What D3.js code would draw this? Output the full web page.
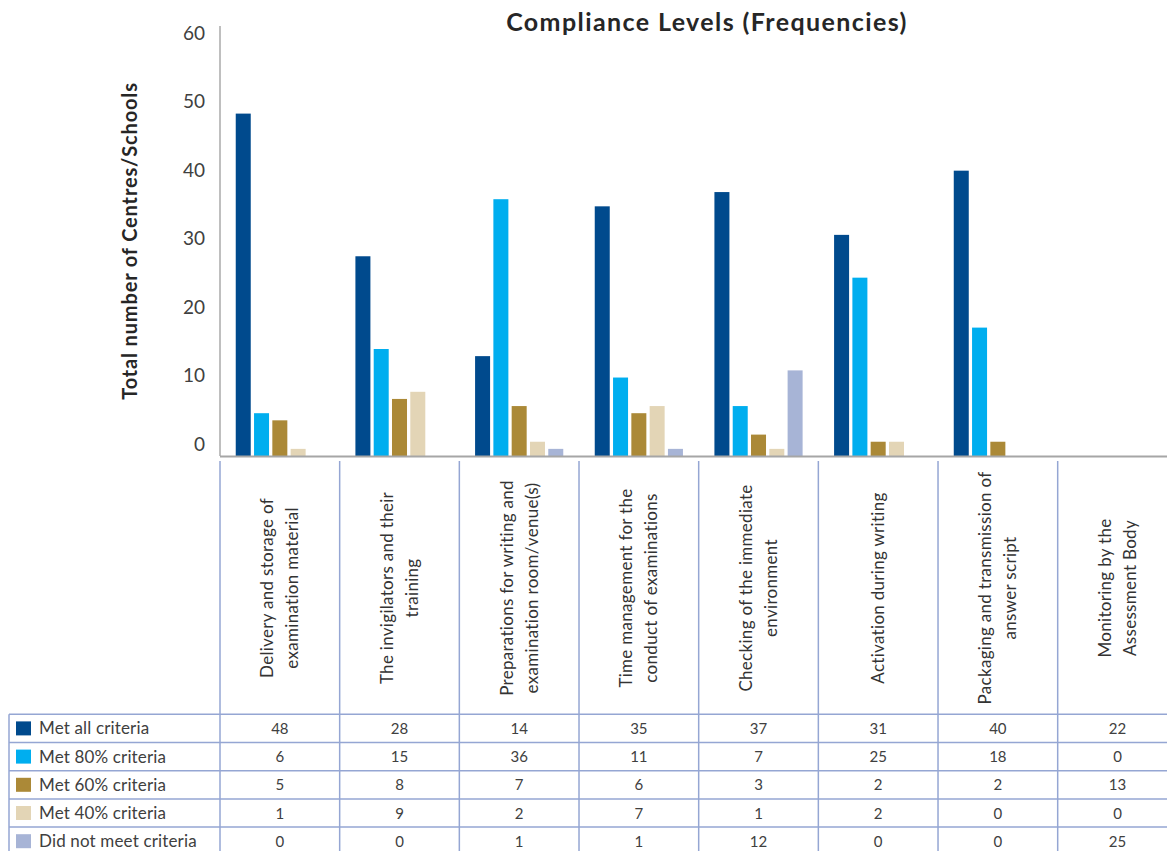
<!DOCTYPE html>
<html>
<head>
<meta charset="utf-8">
<script src="https://cdn.jsdelivr.net/npm/d3@7"></script>
<style>
  html, body { margin: 0; padding: 0; background: #fff; }
  svg { display: block; font-family: Lato, "Open Sans", sans-serif; }
</style>
</head>
<body>
<svg id="chart" width="1167" height="851"></svg>
<script>
// ---------- data ----------
const categories = [
  "Delivery and storage of examination material",
  "The invigilators and their training",
  "Preparations for writing and examination room/venue(s)",
  "Time management for the conduct of examinations",
  "Checking of the immediate environment",
  "Activation during writing",
  "Packaging and transmission of answer script",
  "Monitoring by the Assessment Body"
];
const categoryLines = [
  ["Delivery and storage of", "examination material"],
  ["The invigilators and their", "training"],
  ["Preparations for writing and", "examination room/venue(s)"],
  ["Time management for the", "conduct of examinations"],
  ["Checking of the immediate", "environment"],
  ["Activation during writing"],
  ["Packaging and transmission of", "answer script"],
  ["Monitoring by the", "Assessment Body"]
];
const seriesNames = ["Met all criteria", "Met 80% criteria", "Met 60% criteria", "Met 40% criteria", "Did not meet criteria"];
const metAll   = [48, 28, 14, 35, 37, 31, 40, 22];
const met80    = [6, 15, 36, 11, 7, 25, 18, 0];
const met60    = [5, 8, 7, 6, 3, 2, 2, 13];
const met40    = [1, 9, 2, 7, 1, 2, 0, 0];
const didNot   = [0, 0, 1, 1, 12, 0, 0, 25];
const seriesColors = ["#004A8D", "#00AEEF", "#AB8937", "#E3D5B6", "#A7B4D6"];
const yTicks = [0, 10, 20, 30, 40, 50, 60];
// In the reference, the last category appears only in the table (no bars drawn)
const barCategoryCount = 7;

const seriesValues = [metAll, met80, met60, met40, didNot];

// ---------- layout ----------
const svg = d3.select("#chart");
const colW = 119.67;
const plotLeft = 220;
const baseY = 456;
const topY = 28;
const labelTop = 461;
const tableTop = 714.3;
const rowH = 28.2;
const tableLeft = 9;
const W = 1167;

const x = d3.scaleBand().domain(categories).range([plotLeft, plotLeft + colW * categories.length]);
const xs = d3.scaleBand().domain(seriesNames).range([0, colW]).paddingInner(0.18).paddingOuter(0.86);
const y = d3.scaleLinear().domain([0, 60]).range([baseY, topY]);
// tick labels in the reference sit slightly off the value scale
const yLabel = d3.scaleLinear().domain([0, 60]).range([444, 33]);
const color = d3.scaleOrdinal().domain(seriesNames).range(seriesColors);

// title
svg.append("text")
  .attr("x", 707).attr("y", 31)
  .attr("text-anchor", "middle")
  .attr("font-size", 25).attr("font-weight", "bold")
  .attr("letter-spacing", 1.4)
  .attr("fill", "#262626")
  .text("Compliance Levels (Frequencies)");

// y title
svg.append("text")
  .attr("transform", `translate(137,241) rotate(-90)`)
  .attr("text-anchor", "middle")
  .attr("font-size", 20).attr("font-weight", "bold")
  .attr("letter-spacing", 0.85)
  .attr("fill", "#262626")
  .text("Total number of Centres/Schools");

// y axis labels
const yAxis = svg.append("g")
  .attr("transform", `translate(205,0)`)
  .call(d3.axisLeft(yLabel).tickValues(yTicks).tickSize(0).tickPadding(0).tickFormat(d3.format("d")));
yAxis.select(".domain").remove();
yAxis.selectAll("text").attr("font-size", 19).attr("fill", "#404040").attr("font-family", "Lato, sans-serif");

// y axis line
svg.append("line")
  .attr("x1", plotLeft).attr("x2", plotLeft)
  .attr("y1", 26).attr("y2", baseY)
  .attr("stroke", "#bfbfbf").attr("stroke-width", 2);

// bars
const barData = [];
categories.slice(0, barCategoryCount).forEach((c, i) => {
  seriesNames.forEach((s, j) => {
    barData.push({ cat: c, series: s, value: seriesValues[j][i] });
  });
});
svg.append("g").selectAll("rect")
  .data(barData)
  .join("rect")
  .attr("x", d => x(d.cat) + xs(d.series))
  .attr("width", xs.bandwidth())
  .attr("y", d => y(d.value))
  .attr("height", d => y(0) - y(d.value))
  .attr("fill", d => color(d.series));

// baseline
svg.append("line")
  .attr("x1", plotLeft).attr("x2", W)
  .attr("y1", baseY + 0.5).attr("y2", baseY + 0.5)
  .attr("stroke", "#a6a6a6").attr("stroke-width", 2);

// grid lines for category label area and data table
const gridColor = "#95a6d3";
const grid = svg.append("g").attr("stroke", gridColor).attr("stroke-width", 1.5);
categories.forEach(c => {
  grid.append("line")
    .attr("x1", x(c)).attr("x2", x(c))
    .attr("y1", labelTop).attr("y2", 851);
});
grid.append("line")
  .attr("x1", tableLeft).attr("x2", tableLeft)
  .attr("y1", tableTop).attr("y2", 851);
for (let r = 0; r < seriesNames.length; r++) {
  grid.append("line")
    .attr("x1", tableLeft).attr("x2", W)
    .attr("y1", tableTop + r * rowH).attr("y2", tableTop + r * rowH);
}

// category labels (rotated)
const catG = svg.append("g");
categories.forEach((c, i) => {
  const lines = categoryLines[i];
  const cx = x(c) + colW / 2;
  const t = catG.append("text")
    .attr("transform", `translate(${cx},588) rotate(-90)`)
    .attr("text-anchor", "middle")
    .attr("font-size", 17)
    .attr("letter-spacing", 0.3)
    .attr("fill", "#333");
  lines.forEach((ln, k) => {
    t.append("tspan")
      .attr("x", 0)
      .attr("y", (k - (lines.length - 1) / 2) * 25 + 6)
      .text(ln);
  });
});

// legend rows + values
seriesNames.forEach((s, j) => {
  const rowY = tableTop + j * rowH;
  const cy = rowY + rowH / 2;
  svg.append("rect")
    .attr("x", 16).attr("y", cy - 7)
    .attr("width", 15).attr("height", 14)
    .attr("fill", color(s));
  svg.append("text")
    .attr("x", 39).attr("y", cy + 6)
    .attr("font-size", 17).attr("letter-spacing", 0.15).attr("fill", "#404040")
    .text(s);
  categories.forEach((c, i) => {
    svg.append("text")
      .attr("x", x(c) + colW / 2).attr("y", cy + 5.5)
      .attr("text-anchor", "middle")
      .attr("font-size", 15).attr("fill", "#404040")
      .text(seriesValues[j][i]);
  });
});
</script>
</body>
</html>
